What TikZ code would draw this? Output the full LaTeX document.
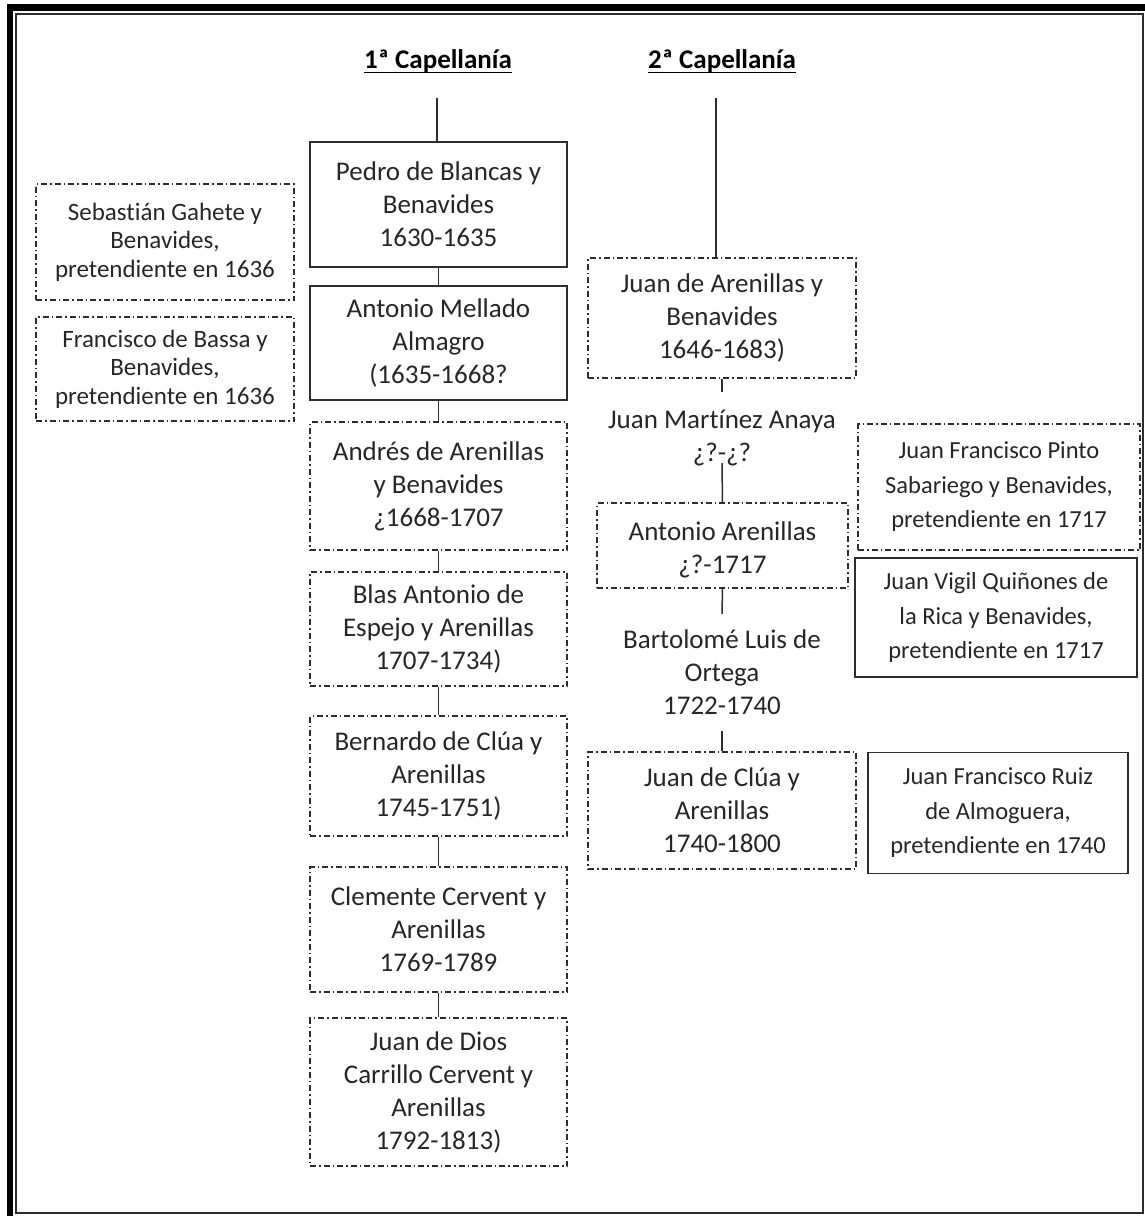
\documentclass[tikz,border=0pt]{standalone}
\usepackage{fontspec}
\setmainfont{Carlito}[Ligatures=NoCommon]
\definecolor{txt}{RGB}{38,38,38}
\definecolor{ln}{RGB}{45,45,45}
\newcommand\mainfs{\fontsize{27}{33}\selectfont}
\newcommand\sidefs{\fontsize{25}{28.5}\selectfont}
\newcommand\rsidefs{\fontsize{24.5}{34.5}\selectfont}
\newcommand\headfs{\fontsize{27}{30}\selectfont\bfseries}
\begin{document}
\begin{tikzpicture}[x=1pt,y=-1pt,
  solidbox/.style={draw=ln, line width=1.6pt, rectangle, align=center, inner sep=0pt, font=\mainfs, text=txt},
  dashbox/.style={solidbox, line width=1.3pt, dash pattern=on 6pt off 3pt on 1.5pt off 3pt},
  plain/.style={rectangle, align=center, inner sep=0pt, font=\mainfs, text=txt},
  conn/.style={draw=ln, line width=1.5pt},
  head/.style={inner sep=0pt, font=\headfs, text=black}]
\useasboundingbox (0,0) rectangle (1145,1216);
% frame
\fill[black] (7,4) rectangle (1145,11);
\fill[black] (7,4) rectangle (13,1216);
\draw[ln, line width=1.2pt] (16,14) rectangle (1143,1213);
% headers
\node[head] (cap1) at (438,61) {1ª Capellanía};
\node[head] (cap2) at (722,61) {2ª Capellanía};
\draw[black, line width=1.6pt] ([yshift=-4pt]cap1.base west) -- ([yshift=-4pt]cap1.base east);
\draw[black, line width=1.6pt] ([yshift=-4pt]cap2.base west) -- ([yshift=-4pt]cap2.base east);
\coordinate (t1) at (437,98);
\coordinate (t2) at (716,98);
% left column
\node[solidbox, minimum width=257, minimum height=125] (pedro) at (438.5,204.5) {Pedro de Blancas y\\Benavides\\1630-1635};
\node[solidbox, minimum width=257, minimum height=114] (mellado) at (438.5,343) {Antonio Mellado\\Almagro\\(1635-1668?};
\node[dashbox, minimum width=257, minimum height=128] (andres) at (438.5,486) {Andrés de Arenillas\\y Benavides\\¿1668-1707};
\node[dashbox, minimum width=257, minimum height=114] (blas) at (438.5,629) {Blas Antonio de\\Espejo y Arenillas\\1707-1734)};
\node[dashbox, minimum width=257, minimum height=120] (bernardo) at (438.5,776) {Bernardo de Clúa y\\Arenillas\\1745-1751)};
\node[dashbox, minimum width=257, minimum height=125] (clemente) at (438.5,929.5) {Clemente Cervent y\\Arenillas\\1769-1789};
\node[dashbox, minimum width=257, minimum height=148] (juandios) at (438.5,1092) {Juan de Dios\\Carrillo Cervent y\\Arenillas\\1792-1813)};
% left side
\node[dashbox, font=\sidefs, minimum width=258, minimum height=116] (sebastian) at (165,242) {Sebastián Gahete y\\Benavides,\\pretendiente en 1636};
\node[dashbox, font=\sidefs, minimum width=258, minimum height=104] (francisco) at (165,369) {Francisco de Bassa y\\Benavides,\\pretendiente en 1636};
% right column
\node[dashbox, minimum width=268, minimum height=120] (jarenillas) at (722,318) {Juan de Arenillas y\\Benavides\\1646-1683)};
\node[plain, minimum width=240, minimum height=92] (jmartinez) at (722,438) {Juan Martínez Anaya\\¿?-¿?};
\node[dashbox, minimum width=251, minimum height=85] (aarenillas) at (722.5,545.5) {\raisebox{-4pt}[\height][\depth]{\parbox{240pt}{\centering Antonio Arenillas\\¿?-1717}}};
\node[plain, minimum width=240, minimum height=118] (bartolome) at (722,672) {Bartolomé Luis de\\Ortega\\1722-1740};
\node[dashbox, minimum width=268, minimum height=117] (jclua) at (722,810.5) {Juan de Clúa y\\Arenillas\\1740-1800};
% right side
\node[dashbox, font=\rsidefs, minimum width=282, minimum height=126] (pinto) at (999,487) {Juan Francisco Pinto\\Sabariego y Benavides,\\pretendiente en 1717};
\node[solidbox, font=\rsidefs, minimum width=282, minimum height=119] (vigil) at (996,617.5) {Juan Vigil Quiñones de\\la Rica y Benavides,\\pretendiente en 1717};
\node[solidbox, font=\rsidefs, minimum width=260, minimum height=121] (ruiz) at (998,813) {Juan Francisco Ruiz\\de Almoguera,\\pretendiente en 1740};
% connectors
\draw[conn] (t1) -- (t1 |- pedro.north);
\draw[conn] (pedro) -- (mellado);
\draw[conn] (mellado) -- (andres);
\draw[conn] (andres) -- (blas);
\draw[conn] (blas) -- (bernardo);
\draw[conn] (bernardo) -- (clemente);
\draw[conn] (clemente) -- (juandios);
\draw[conn] (t2) -- (t2 |- jarenillas.north);
\draw[conn] (jarenillas) -- (jmartinez);
\draw[conn] ([yshift=21pt]jmartinez.south) -- (aarenillas.north);
\draw[conn] (aarenillas.south) -- ([yshift=-1pt]bartolome.north);
\draw[conn] (bartolome) -- (jclua);
\end{tikzpicture}
\end{document}
